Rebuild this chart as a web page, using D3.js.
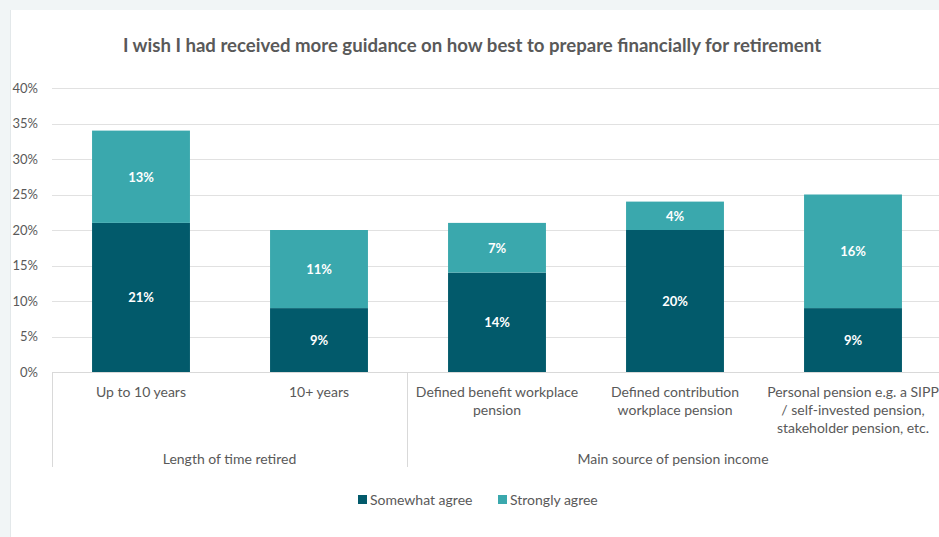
<!DOCTYPE html>
<html>
<head>
<meta charset="utf-8">
<script src="https://cdn.jsdelivr.net/npm/d3@7/dist/d3.min.js"></script>
<style>
  html, body { margin: 0; padding: 0; background: #f1f5f6; }
  svg { display: block; }
  text { font-family: Lato, "Open Sans", sans-serif; }
</style>
</head>
<body>
<svg id="chart" width="939" height="537"></svg>
<script>
// Survey data: share agreeing with the statement, by group
const categories = [
  "Up to 10 years",
  "10+ years",
  "Defined benefit workplace pension",
  "Defined contribution workplace pension",
  "Personal pension e.g. a SIPP / self-invested pension, stakeholder pension, etc."
];
const categoryLines = [
  ["Up to 10 years"],
  ["10+ years"],
  ["Defined benefit workplace", "pension"],
  ["Defined contribution", "workplace pension"],
  ["Personal pension e.g. a SIPP", "/ self-invested pension,", "stakeholder pension, etc."]
];
const groups = [
  { name: "Length of time retired", members: [0, 1] },
  { name: "Main source of pension income", members: [2, 3, 4] }
];
const somewhatAgree = [21, 9, 14, 20, 9];
const stronglyAgree = [13, 11, 7, 4, 16];
const seriesNames = ["Somewhat agree", "Strongly agree"];
const yTicks = [0, 5, 10, 15, 20, 25, 30, 35, 40];
const colors = ["#025a6b", "#3aa8ad"];

const svg = d3.select("#chart");
const W = 939, H = 537;

// white card
svg.append("rect").attr("x", 10).attr("y", 10).attr("width", W - 10).attr("height", H - 10)
  .attr("fill", "#ffffff");
svg.append("line").attr("x1", 10.5).attr("x2", 10.5).attr("y1", 10).attr("y2", H)
  .attr("stroke", "#e3e8ea");

svg.append("text")
  .attr("x", 472).attr("y", 52)
  .attr("text-anchor", "middle")
  .attr("font-size", 18.6).attr("font-weight", 700).attr("fill", "#595959")
  .text("I wish I had received more guidance on how best to prepare financially for retirement");

const plotLeft = 52, plotRight = 942, plotTop = 88, plotBottom = 372;
const x = d3.scaleBand().domain(d3.range(categories.length)).range([plotLeft, plotRight]).paddingInner(0.45).paddingOuter(0.225);
const y = d3.scaleLinear().domain([0, 40]).range([plotBottom, plotTop]);

// gridlines
svg.append("g").selectAll("line").data(yTicks.filter(t => t > 0)).join("line")
  .attr("x1", plotLeft).attr("x2", W)
  .attr("y1", d => Math.round(y(d)) + 0.5).attr("y2", d => Math.round(y(d)) + 0.5)
  .attr("stroke", "#e1e1e1").attr("stroke-width", 1);

// y axis labels
const yAxis = d3.axisLeft(y).tickValues(yTicks).tickFormat(d => d + "%").tickSize(0).tickPadding(0);
const yg = svg.append("g").attr("transform", `translate(38,0)`).call(yAxis);
yg.select(".domain").remove();
yg.selectAll("text").attr("font-size", 13).attr("fill", "#595959")
  .attr("font-family", "Lato, 'Open Sans', sans-serif");

// stacked bars
const rows = categories.map((c, i) => ({ i, s: somewhatAgree[i], t: stronglyAgree[i] }));
const stack = d3.stack().keys(["s", "t"])(rows);
const barG = svg.append("g");
stack.forEach((layer, li) => {
  barG.selectAll(null).data(layer).join("rect")
    .attr("x", d => x(d.data.i))
    .attr("width", x.bandwidth())
    .attr("y", d => y(d[1]))
    .attr("height", d => y(d[0]) - y(d[1]))
    .attr("fill", colors[li]);
  barG.selectAll(null).data(layer).join("text")
    .attr("x", d => x(d.data.i) + x.bandwidth() / 2)
    .attr("y", d => (y(d[0]) + y(d[1])) / 2 + 5)
    .attr("text-anchor", "middle")
    .attr("font-size", 13).attr("font-weight", 700).attr("fill", "#ffffff")
    .text(d => Math.round(d[1] - d[0]) + "%");
});

// category axis
const axisColor = "#d9d9d9";
svg.append("line").attr("x1", plotLeft).attr("x2", W).attr("y1", plotBottom + 0.5).attr("y2", plotBottom + 0.5)
  .attr("stroke", axisColor);
const sepX = [plotLeft, (x(1) + x.bandwidth() + x(2)) / 2 - 1];
svg.append("g").selectAll("line").data(sepX).join("line")
  .attr("x1", d => Math.round(d) + 0.5).attr("x2", d => Math.round(d) + 0.5)
  .attr("y1", plotBottom).attr("y2", 467)
  .attr("stroke", axisColor);

const catG = svg.append("g").selectAll("text").data(categoryLines).join("text")
  .attr("text-anchor", "middle").attr("font-size", 14).attr("fill", "#595959")
  .attr("transform", (d, i) => `translate(${x(i) + x.bandwidth() / 2},397)`);
catG.selectAll("tspan").data(d => d).join("tspan")
  .attr("x", 0).attr("dy", (d, j) => j === 0 ? 0 : 18).text(d => d);

// group labels
const groupBounds = [[sepX[0], sepX[1]], [sepX[1], W]];
svg.append("g").selectAll("text").data(groups).join("text")
  .attr("x", (g, i) => (groupBounds[i][0] + groupBounds[i][1]) / 2)
  .attr("y", 464).attr("text-anchor", "middle").attr("font-size", 14).attr("fill", "#595959")
  .text(g => g.name);

// legend
const legendX = [358, 498];
const lg = svg.append("g").selectAll("g").data(seriesNames).join("g")
  .attr("transform", (d, i) => `translate(${legendX[i]},495)`);
lg.append("rect").attr("width", 9).attr("height", 9).attr("y", 0).attr("fill", (d, i) => colors[i]);
lg.append("text").attr("x", 12).attr("y", 10).attr("font-size", 14).attr("fill", "#595959").text(d => d);
</script>
</body>
</html>
